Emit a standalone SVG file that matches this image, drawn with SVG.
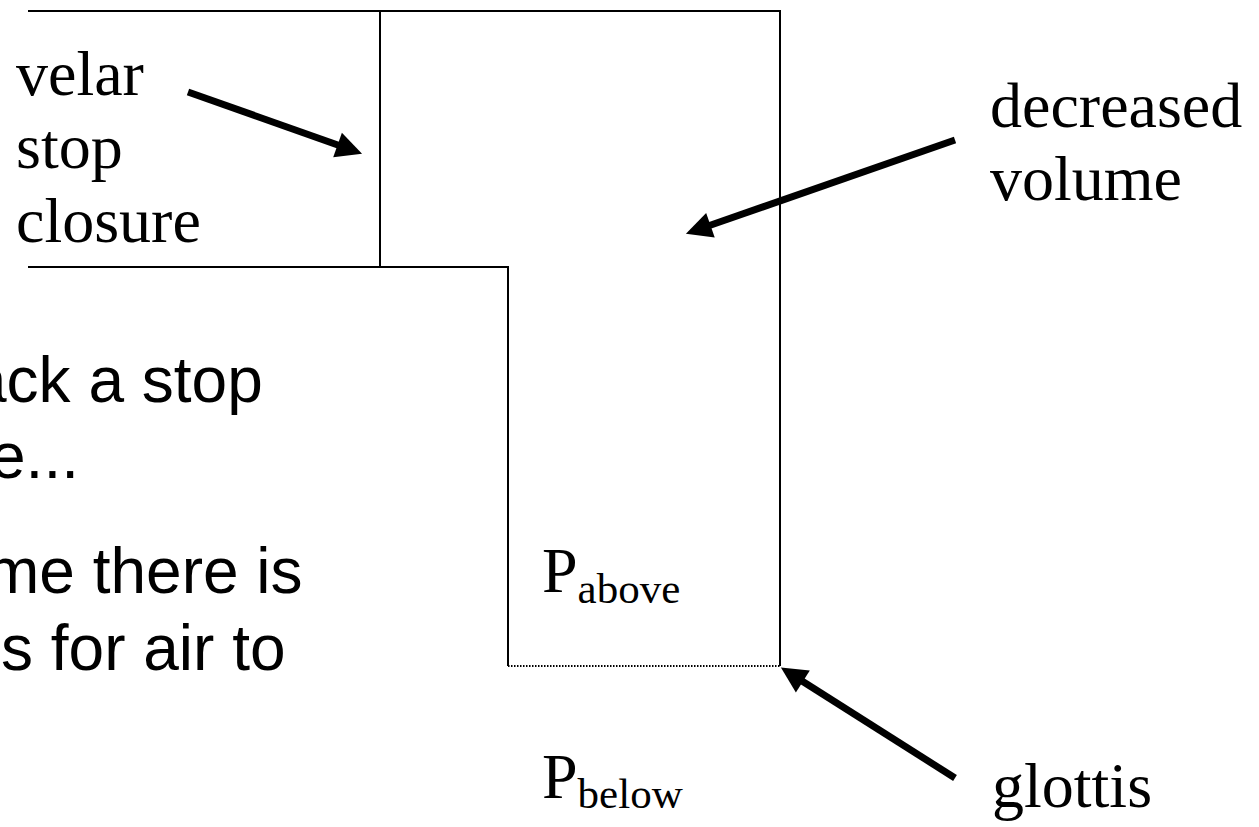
<svg xmlns="http://www.w3.org/2000/svg" width="1259" height="827" viewBox="0 0 1259 827">
  <style>
    .wall { stroke: #000; stroke-width: 2; fill: none; }
    .dots { stroke: #000; stroke-width: 2; stroke-dasharray: 1.5 1.5; fill: none; }
    .ptr { stroke: #000; stroke-width: 7; fill: none; marker-end: url(#head); }
    .lbl { font-family: "Liberation Serif", "Times New Roman", serif; font-size: 64px; fill: #000; }
    .sub { font-size: 43px; }
    .body { font-family: "Liberation Sans", Arial, sans-serif; font-size: 64px; fill: #000; }
  </style>
  <defs>
    <marker id="head" viewBox="0 -13 26 26" markerWidth="26" markerHeight="26" refX="1" refY="0" orient="auto" markerUnits="userSpaceOnUse" overflow="visible">
      <path d="M0,-13 L26,0 L0,13 z" fill="#000"/>
    </marker>
  </defs>
  <rect width="1259" height="827" fill="#fff"/>

  <!-- vocal tract outline -->
  <g id="tract">
    <polyline class="wall" points="28,11 780,11 780,666"/>
    <line class="wall" x1="380" y1="11" x2="380" y2="267"/>
    <polyline class="wall" points="28,267 508,267 508,666"/>
    <line class="dots" x1="508" y1="666" x2="780" y2="666"/>
  </g>

  <!-- bullet text, cut off at the left edge -->
  <g id="bullets" class="body">
    <text x="-29" y="402">ack a stop</text>
    <text x="-10" y="478">e...</text>
    <text x="-14" y="593">me there is</text>
    <text x="1" y="670">s for air to</text>
  </g>

  <g id="velar-label" class="lbl">
    <text x="16" y="95">velar</text>
    <text x="16" y="168">stop</text>
    <text x="16" y="242">closure</text>
  </g>

  <g id="volume-label" class="lbl">
    <text x="990" y="127">decreased</text>
    <text x="990" y="200">volume</text>
  </g>

  <g id="glottis-label" class="lbl">
    <text x="992" y="807">glottis</text>
  </g>

  <g id="p-above" class="lbl">
    <text x="542" y="592">P<tspan class="sub" dy="11">above</tspan></text>
  </g>

  <g id="p-below" class="lbl">
    <text x="542" y="798">P<tspan class="sub" dy="10">below</tspan></text>
  </g>

  <!-- pointer arrows -->
  <g id="connectors">
    <line class="ptr" x1="188" y1="92" x2="338.5" y2="145.3"/>
    <line class="ptr" x1="955" y1="140" x2="709.5" y2="225.5"/>
    <line class="ptr" x1="955" y1="778" x2="802" y2="681"/>
  </g>
</svg>
